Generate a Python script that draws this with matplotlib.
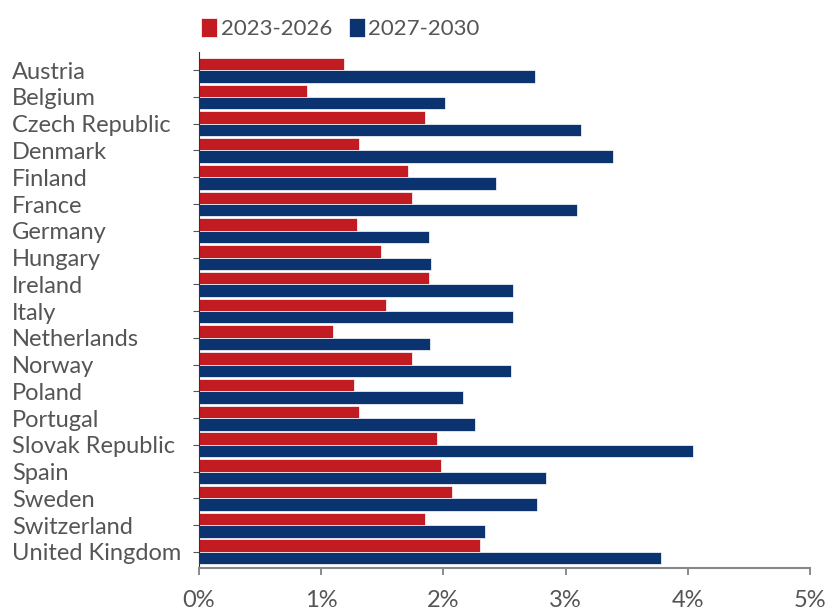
import numpy as np
import matplotlib.pyplot as plt
from matplotlib.ticker import FuncFormatter

countries = ["Austria", "Belgium", "Czech Republic", "Denmark", "Finland",
             "France", "Germany", "Hungary", "Ireland", "Italy", "Netherlands",
             "Norway", "Poland", "Portugal", "Slovak Republic", "Spain",
             "Sweden", "Switzerland", "United Kingdom"]
early = [1.19, 0.88, 1.85, 1.31, 1.71, 1.74, 1.29, 1.49, 1.88, 1.53, 1.10,
         1.74, 1.27, 1.31, 1.95, 1.98, 2.07, 1.85, 2.30]
late = [2.75, 2.01, 3.13, 3.39, 2.43, 3.09, 1.88, 1.90, 2.57, 2.57, 1.89,
        2.55, 2.16, 2.26, 4.04, 2.84, 2.77, 2.34, 3.78]
series_names = ["2023-2026", "2027-2030"]
xticks = [0, 1, 2, 3, 4, 5]

RED = "#C21B22"
BLUE = "#0B336F"
TXT = "#555555"

plt.rcParams['font.family'] = ['Lato', 'DejaVu Sans']

fig = plt.figure(figsize=(8.28, 6.12), dpi=100)
ax = fig.add_axes([0.2403, 0.072, 0.7379, 0.843])

y = np.arange(len(countries))
h = 0.465
ax.barh(y - h / 2, early, height=h, color=RED, edgecolor="white", linewidth=0.5,
        label=series_names[0])
ax.barh(y + h / 2, late, height=h, color=BLUE, edgecolor="white", linewidth=0.5,
        label=series_names[1])

ax.set_ylim(len(countries) - 0.4, -0.68)
ax.set_xlim(0, 5)
ax.set_yticks(y)
ax.set_yticklabels(countries, fontsize=17, color=TXT, ha="left")
ax.set_xticks(xticks)
ax.xaxis.set_major_formatter(FuncFormatter(lambda v, p: f"{v:.0f}%"))
ax.tick_params(axis="x", labelsize=17, labelcolor=TXT, length=5,
               color="#777777", width=1.2, pad=11)
ax.tick_params(axis="y", length=4, color="#555555", pad=130.5)

for s in ["top", "right"]:
    ax.spines[s].set_visible(False)
ax.spines["left"].set_color("#333333")
ax.spines["bottom"].set_color("#888888")
ax.spines["bottom"].set_linewidth(1.5)

fig.legend(loc="center left", bbox_to_anchor=(0.243, 0.953), ncol=2,
           frameon=False, fontsize=16, handlelength=0.72, handleheight=0.95,
           handletextpad=0.15, columnspacing=0.75, borderpad=0,
           borderaxespad=0, labelcolor=TXT)

fig.savefig("out.png", dpi=100)
